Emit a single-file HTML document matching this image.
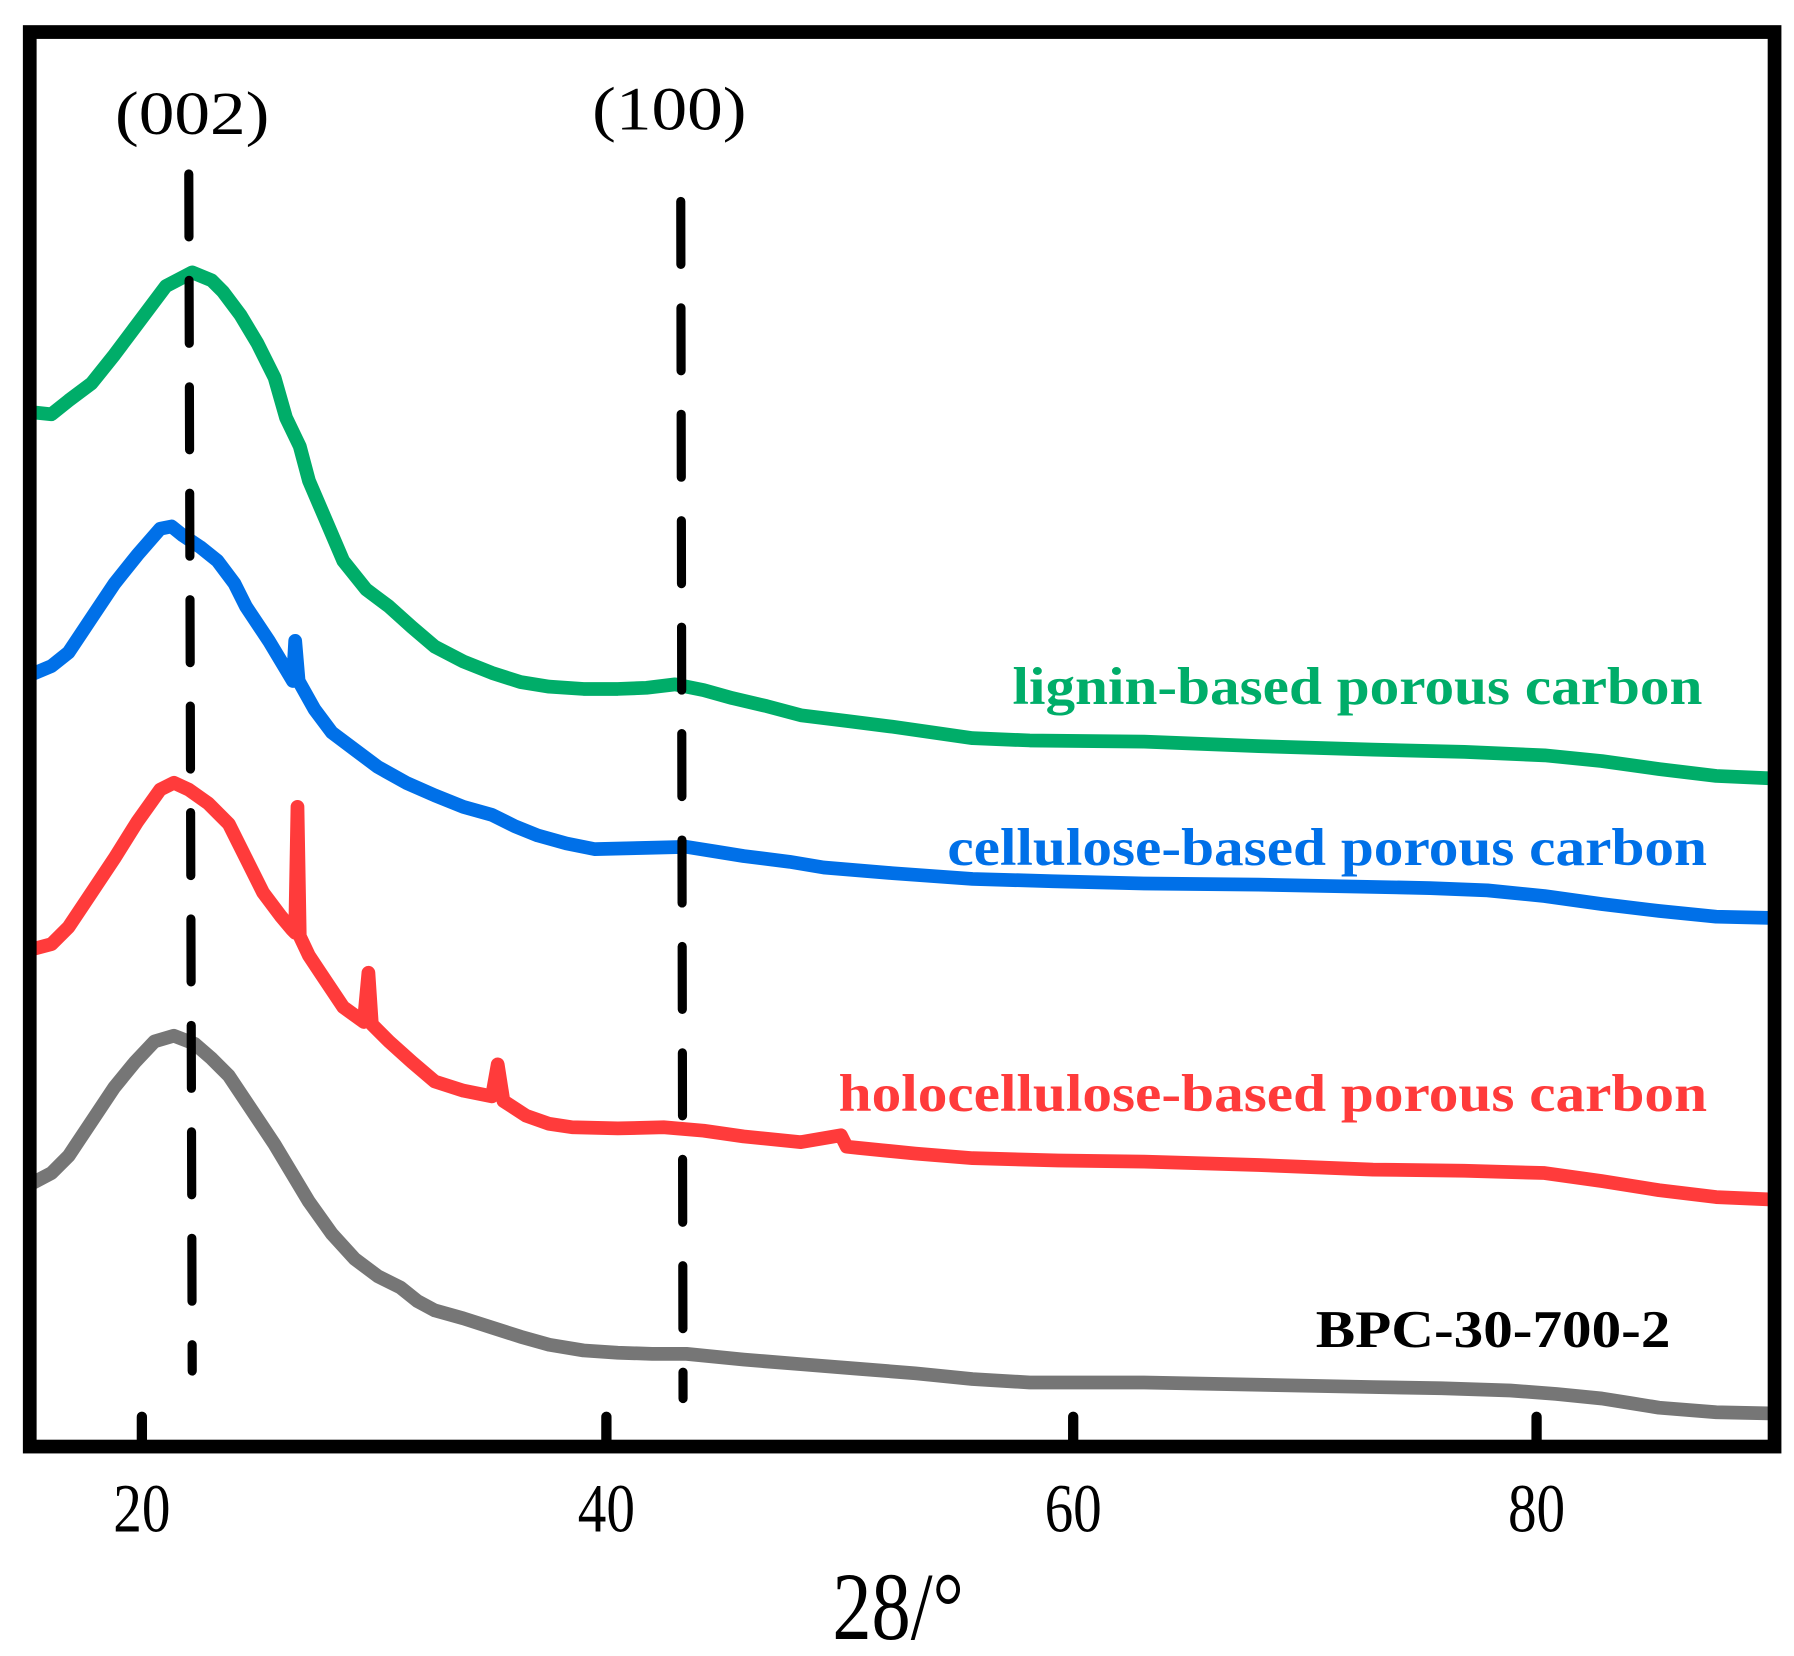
<!DOCTYPE html>
<html><head><meta charset="utf-8"><style>html,body{margin:0;padding:0;background:#fff}svg{display:block}</style></head>
<body>
<svg width="1794" height="1656" viewBox="0 0 1568 1447" preserveAspectRatio="none" xmlns="http://www.w3.org/2000/svg">
<rect x="0" y="0" width="1568" height="1447" fill="#fff"/>
<g fill="none" stroke-linejoin="round" stroke-width="12">
<polyline stroke="#00ad69" points="26,360 45,362 60,350 80,335 100,310 115,290 130,270 145,250 168,238 185,245 195,255 210,275 225,300 240,330 250,365 262,390 270,420 285,455 300,490 320,515 340,530 360,548 380,565 405,578 430,588 455,596 480,600 510,602 540,602 565,601 590,598 615,603 640,610 670,617 700,625 740,630 780,635 815,640 850,645 900,647 1000,648 1100,652 1200,655 1280,657 1350,660 1400,665 1450,672 1500,678 1546,680"/>
<polyline stroke="#0070e8" points="26,590 45,582 60,570 80,540 100,510 120,485 140,462 150,460 160,468 175,478 190,490 205,510 215,530 235,560 250,585 256,595 258,560 261,595 275,620 290,640 310,655 330,670 355,684 380,695 405,705 430,712 450,722 470,730 495,737 520,742 560,741 600,740 625,744 650,748 690,753 720,758 780,763 850,768 920,770 1000,772 1100,773 1200,775 1250,776 1300,778 1350,783 1400,790 1450,796 1500,801 1546,802"/>
<polyline stroke="#ff3b3b" points="26,830 45,825 60,810 80,780 100,750 120,718 140,690 152,684 165,690 182,702 200,720 215,750 230,780 245,800 255,812 258,815 260,705 262,818 270,835 280,850 290,865 300,880 318,893 322,850 325,895 340,910 360,928 380,945 405,953 430,958 435,930 440,962 460,975 480,982 500,985 540,986 580,985 615,988 650,993 700,998 735,992 740,1002 750,1003 800,1008 850,1012 925,1014 1000,1015 1100,1018 1200,1022 1280,1023 1350,1025 1400,1032 1450,1040 1500,1046 1546,1048"/>
<polyline stroke="#767676" points="26,1035 45,1025 60,1010 80,980 100,950 118,928 135,910 152,905 170,912 185,925 200,940 220,970 240,1000 255,1025 270,1050 290,1078 310,1100 330,1115 350,1125 365,1137 380,1145 405,1152 430,1160 455,1168 480,1175 510,1180 540,1182 570,1183 600,1183 650,1188 700,1192 750,1196 800,1200 850,1205 900,1208 950,1208 1000,1208 1100,1210 1200,1212 1260,1213 1320,1215 1360,1218 1400,1222 1425,1226 1450,1230 1500,1234 1546,1235"/>
</g>
<g stroke="#000" stroke-width="8" stroke-linecap="round" stroke-dasharray="55,38" fill="none">
<line x1="165" y1="152" x2="168" y2="1198"/>
<line x1="595" y1="176" x2="597" y2="1222"/>
</g>
<rect x="26" y="28" width="1525" height="1236" fill="none" stroke="#000" stroke-width="12"/>
<g stroke="#000" stroke-width="9" stroke-linecap="round">
<line x1="124" y1="1258" x2="124" y2="1238"/>
<line x1="530" y1="1258" x2="530" y2="1238"/>
<line x1="938" y1="1258" x2="938" y2="1238"/>
<line x1="1343" y1="1258" x2="1343" y2="1238"/>
</g>
<g font-family="'Liberation Serif', serif" fill="#000" text-anchor="middle">
<text x="124" y="1338" font-size="60" textLength="50" lengthAdjust="spacingAndGlyphs">20</text>
<text x="530" y="1338" font-size="60" textLength="50" lengthAdjust="spacingAndGlyphs">40</text>
<text x="938" y="1338" font-size="60" textLength="50" lengthAdjust="spacingAndGlyphs">60</text>
<text x="1343" y="1338" font-size="60" textLength="50" lengthAdjust="spacingAndGlyphs">80</text>
<text x="785" y="1432" font-size="84" textLength="115" lengthAdjust="spacingAndGlyphs">28/°</text>
<text x="168" y="117" font-size="54" textLength="135" lengthAdjust="spacingAndGlyphs">(002)</text>
<text x="585" y="113" font-size="54" textLength="135" lengthAdjust="spacingAndGlyphs">(100)</text>
</g>
<g font-family="'Liberation Serif', serif" font-weight="bold" font-size="46">
<text x="885" y="615" fill="#00ad69" textLength="603" lengthAdjust="spacingAndGlyphs">lignin-based porous carbon</text>
<text x="828" y="756" fill="#0070e8" textLength="664" lengthAdjust="spacingAndGlyphs">cellulose-based porous carbon</text>
<text x="733" y="971" fill="#ff3b3b" textLength="759" lengthAdjust="spacingAndGlyphs">holocellulose-based porous carbon</text>
<text x="1150" y="1177" fill="#000" textLength="310" lengthAdjust="spacingAndGlyphs">BPC-30-700-2</text>
</g>
</svg>
</body></html>
